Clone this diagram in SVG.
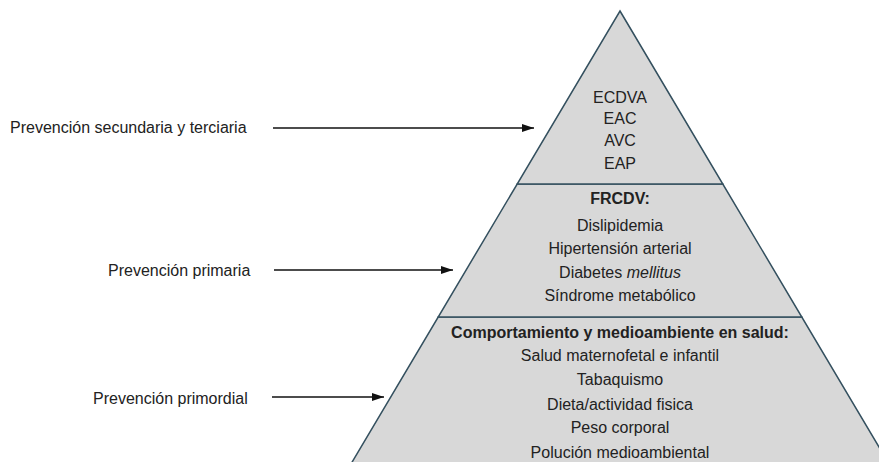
<svg xmlns="http://www.w3.org/2000/svg" width="879" height="462" viewBox="0 0 879 462">
<style>
.tier{fill:#d8d8d8;stroke:#34505f;stroke-width:1.5;stroke-linejoin:miter}
.t{font-family:"Liberation Sans",Arial,sans-serif;font-size:16px;fill:#222;text-anchor:middle}
.b{font-weight:bold}
.lbl{font-family:"Liberation Sans",Arial,sans-serif;font-size:16px;fill:#222}
.arr{stroke:#111;stroke-width:1.3;fill:none;marker-end:url(#ah)}
</style>
<defs>
<marker id="ah" viewBox="0 0 12 8" refX="12" refY="4" markerWidth="12" markerHeight="8" markerUnits="userSpaceOnUse" orient="auto">
<path d="M0,0 L12,4 L0,8 Z" fill="#111"/>
</marker>
</defs>
<rect width="879" height="462" fill="#fff"/>
<g id="tier-bottom">
<polygon class="tier" points="438.2,317 801.8,317 892.6,470 347.4,470"/>
<text class="t b" x="620" y="338">Comportamiento y medioambiente en salud:</text>
<text class="t" x="620" y="361">Salud maternofetal e infantil</text>
<text class="t" x="620" y="385">Tabaquismo</text>
<text class="t" x="620" y="410">Dieta/actividad fisica</text>
<text class="t" x="620" y="433">Peso corporal</text>
<text class="t" x="620" y="458">Polución medioambiental</text>
</g>
<g id="tier-middle">
<polygon class="tier" points="517.2,184 722.8,184 801.8,317 438.2,317"/>
<text class="t b" x="620" y="204">FRCDV:</text>
<text class="t" x="620" y="231">Dislipidemia</text>
<text class="t" x="620" y="254">Hipertensión arterial</text>
<text class="t" x="620" y="278">Diabetes <tspan font-style="italic">mellitus</tspan></text>
<text class="t" x="620" y="301">Síndrome metabólico</text>
</g>
<g id="tier-top">
<polygon class="tier" points="620,11 722.8,184 517.2,184"/>
<text class="t" x="620" y="103">ECDVA</text>
<text class="t" x="620" y="124">EAC</text>
<text class="t" x="620" y="146">AVC</text>
<text class="t" x="620" y="169">EAP</text>
</g>
<g id="label-secundaria">
<text class="lbl" x="10" y="133">Prevención secundaria y terciaria</text>
</g>
<g id="label-primaria">
<text class="lbl" x="108" y="276">Prevención primaria</text>
</g>
<g id="label-primordial">
<text class="lbl" x="93" y="404">Prevención primordial</text>
</g>
<g id="connectors">
<line class="arr" x1="273" y1="128" x2="534" y2="128"/>
<line class="arr" x1="274" y1="270" x2="453" y2="270"/>
<line class="arr" x1="272" y1="397" x2="384" y2="397"/>
</g>
</svg>
